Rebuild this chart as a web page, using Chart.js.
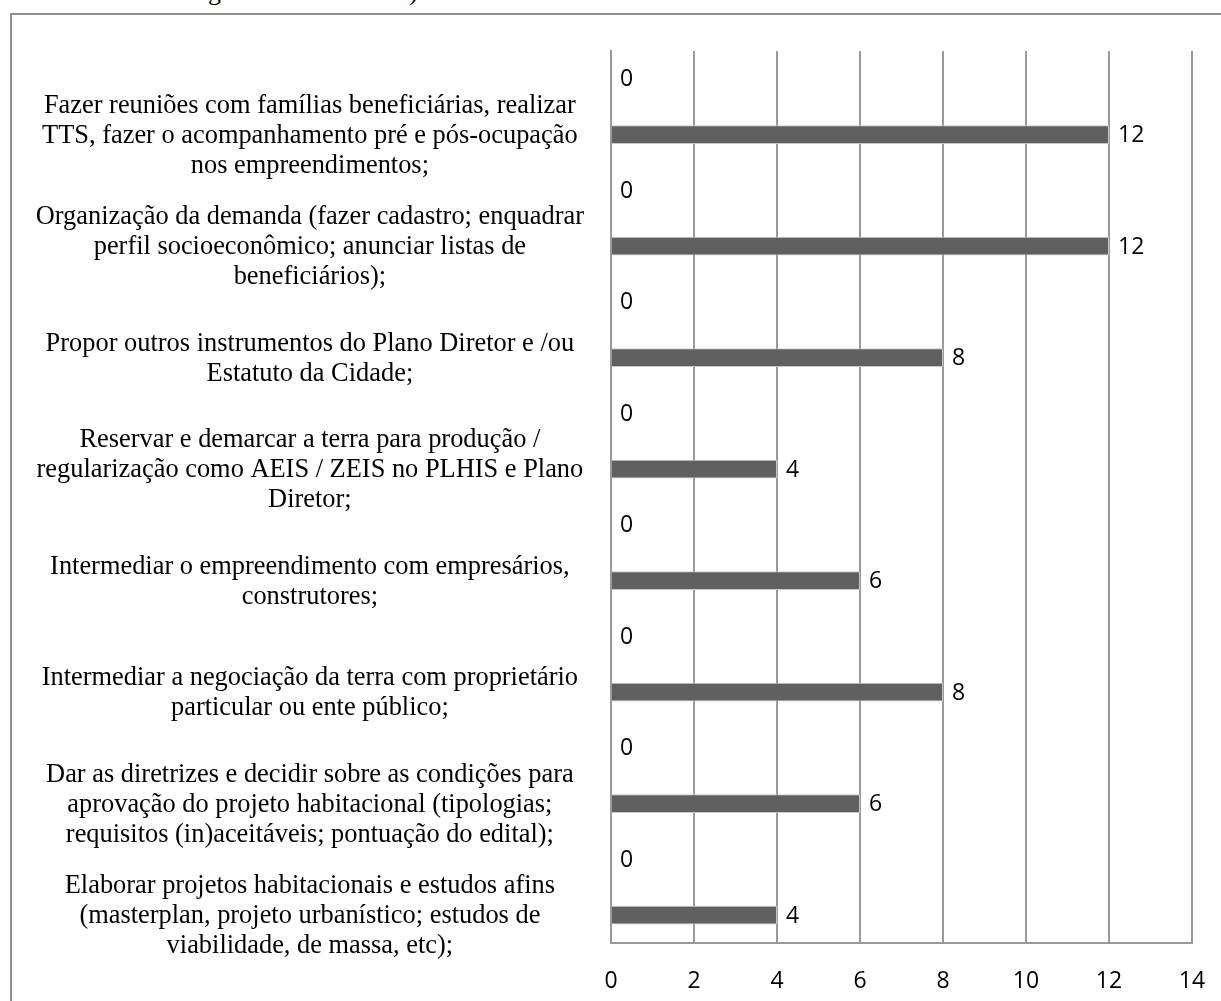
<!DOCTYPE html>
<html>
<head>
<meta charset="utf-8">
<script src="https://cdn.jsdelivr.net/npm/chart.js@4.4.1/dist/chart.umd.min.js"></script>
<style>
    html, body { margin: 0; padding: 0; background: #fff; overflow: hidden; }
    #wrap { position: relative; width: 1221px; height: 1001px; overflow: hidden; }
    #frame {
        position: absolute; left: 10px; top: 13px;
        width: 1400px; height: 1200px;
        border: 2px solid #8f8f8f;
    }
    .cut {
        position: absolute; top: -23px;
        font: 26px "Liberation Serif", serif; line-height: 30px; color: #000;
    }
    #chart { position: absolute; left: 0; top: 0; }
</style>
</head>
<body>
<div id="wrap">
    <span class="cut" style="left: 208px;">g</span>
    <span class="cut" style="left: 409px;">)</span>
    <div id="frame"></div>
    <canvas id="chart" width="1221" height="1001"></canvas>
</div>
<script>
// Atribuições (de cima para baixo)
const categorias = [
    ['Fazer reuniões com famílias beneficiárias, realizar', 'TTS, fazer o acompanhamento pré e pós-ocupação', 'nos empreendimentos;'],
    ['Organização da demanda (fazer cadastro; enquadrar', 'perfil socioeconômico; anunciar listas de', 'beneficiários);'],
    ['Propor outros instrumentos do Plano Diretor e /ou', 'Estatuto da Cidade;'],
    ['Reservar e demarcar a terra para produção /', 'regularização como AEIS / ZEIS no PLHIS e Plano', 'Diretor;'],
    ['Intermediar o empreendimento com empresários,', 'construtores;'],
    ['Intermediar a negociação da terra com proprietário', 'particular ou ente público;'],
    ['Dar as diretrizes e decidir sobre as condições para', 'aprovação do projeto habitacional (tipologias;', 'requisitos (in)aceitáveis; pontuação do edital);'],
    ['Elaborar projetos habitacionais e estudos afins', '(masterplan, projeto urbanístico; estudos de', 'viabilidade, de massa, etc);']
];
const serieZero = [0, 0, 0, 0, 0, 0, 0, 0];
const serieValores = [12, 12, 8, 4, 6, 8, 6, 4];
const eixoMin = 0;
const eixoMax = 14;
const eixoPasso = 2;

const corGrade = '#999999';

// rótulos de valor ao lado de cada barra
const rotulosValor = {
    id: 'rotulosValor',
    afterDatasetsDraw(chart) {
        const ctx = chart.ctx;
        ctx.save();
        ctx.font = '23px "Open Sans", sans-serif';
        ctx.fillStyle = '#000';
        ctx.textAlign = 'left';
        ctx.textBaseline = 'middle';
        chart.data.datasets.forEach((ds, i) => {
            chart.getDatasetMeta(i).data.forEach((bar, j) => {
                ctx.fillText(String(ds.data[j]), bar.x + 9, bar.y + 1);
            });
        });
        ctx.restore();
    }
};

const estiloBarra = {
    backgroundColor: '#606060',
    borderColor: '#c8c8c8',
    borderWidth: 1,
    categoryPercentage: 1,
    barPercentage: 0.34
};

new Chart(document.getElementById('chart'), {
    type: 'bar',
    data: {
        labels: categorias,
        datasets: [
            { data: serieZero, ...estiloBarra },
            { data: serieValores, ...estiloBarra }
        ]
    },
    options: {
        indexAxis: 'y',
        responsive: false,
        animation: false,
        layout: { padding: { left: 20, top: 51, right: 29, bottom: 0 } },
        plugins: {
            legend: { display: false },
            tooltip: { enabled: false }
        },
        scales: {
            x: {
                min: eixoMin,
                max: eixoMax,
                ticks: {
                    stepSize: eixoPasso,
                    color: '#000',
                    padding: 25,
                    font: { family: '"Open Sans", sans-serif', size: 23 }
                },
                grid: { color: corGrade, lineWidth: 2, drawTicks: false },
                border: { color: corGrade, width: 2 },
                afterFit: (scale) => {
                    scale.height = 58;
                    scale.paddingLeft = 0;
                    scale.paddingRight = 0;
                }
            },
            y: {
                ticks: {
                    color: '#000',
                    crossAlign: 'center',
                    padding: 27,
                    labelOffset: 29,
                    font: { family: '"Liberation Serif", serif', size: 26.4, lineHeight: '30px' }
                },
                grid: { display: false, drawTicks: false },
                border: { color: corGrade, width: 2 },
                afterFit: (scale) => {
                    scale.width = 591;
                    scale.paddingTop = 0;
                    scale.paddingBottom = 0;
                }
            }
        }
    },
    plugins: [rotulosValor]
});
</script>
</body>
</html>
